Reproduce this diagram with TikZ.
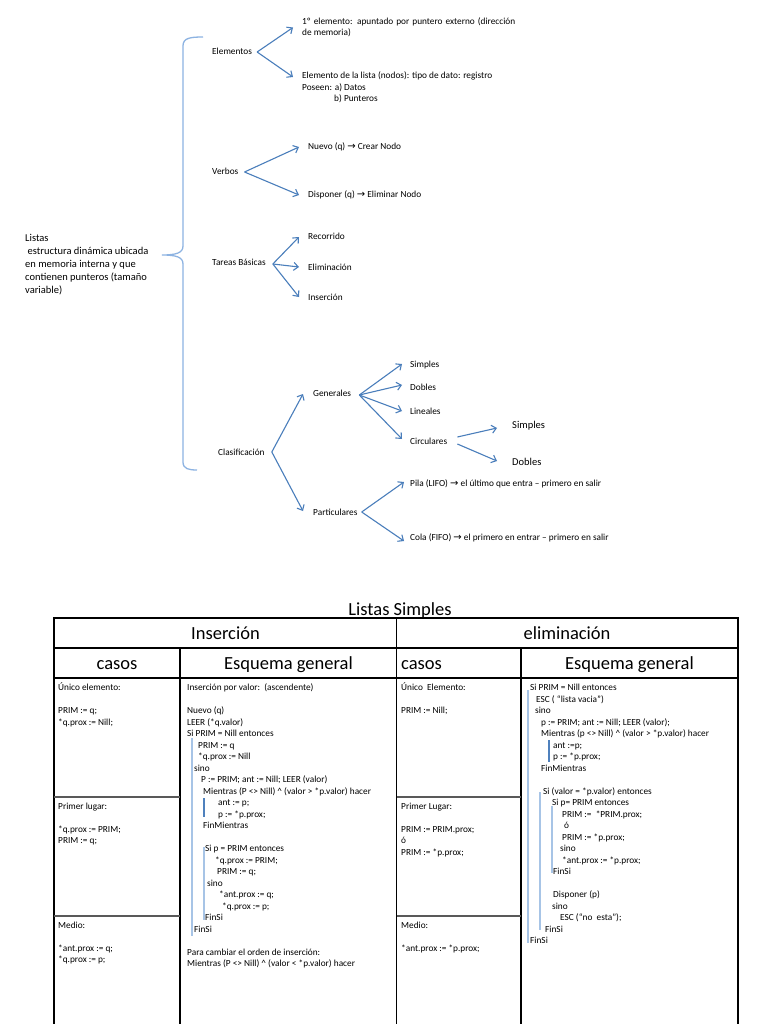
\documentclass[tikz,border=0pt]{standalone}
\usepackage{fontspec}
\setmainfont{Carlito}
\newfontfamily\symfont{DejaVu Sans}
\usetikzlibrary{arrows.meta}
\definecolor{arrblue}{HTML}{4A7EBB}
\definecolor{braceblue}{HTML}{8DB3E2}
\definecolor{barlight}{HTML}{A7C4E6}
\definecolor{bardark}{HTML}{4F81BD}
\newcommand{\ra}{{\symfont\fontsize{10}{10}\selectfont →}}
\begin{document}
\begin{tikzpicture}[x=1pt,y=-1pt,
  mmtext/.style={anchor=west,inner sep=0pt,font=\fontsize{9.3}{11.5}\selectfont,text height=6pt,text depth=0pt},
  mmbig/.style={anchor=west,inner sep=0pt,font=\fontsize{10.5}{12.8}\selectfont,text height=6.5pt,text depth=0pt},
  mmblock/.style={anchor=north west,inner sep=0pt,align=left,font=\fontsize{9.3}{11.5}\selectfont},
  arr/.style={draw=arrblue,line width=1.1pt,-{Straight Barb[length=4.5pt,width=8pt]}},
  brace/.style={draw=braceblue,line width=1.3pt},
  hdr/.style={inner sep=0pt,font=\fontsize{18.5}{22}\selectfont,text height=12pt,text depth=0pt},
  code/.style={anchor=base west,inner sep=0pt,font=\fontsize{9.3}{11.5}\selectfont},
  tline/.style={draw=black,line width=1.1pt},
  tgray/.style={draw=black!65,line width=1.1pt},
  barl/.style={draw=barlight,line width=1.4pt},
  bard/.style={draw=bardark,line width=1.2pt}
]
\useasboundingbox (0,0) rectangle (768,1024);
\fill[white] (0,0) rectangle (768,1024);

% ---------- mind map ----------
\node[anchor=north west,align=left,inner sep=0pt,font=\fontsize{10.5}{12.9}\selectfont] (listas) at (25,234)
  {Listas\\\hspace*{2.5pt}estructura dinámica ubicada\\en memoria interna y que\\contienen punteros (tamaño\\variable)};

\draw[brace] (203,37) .. controls (190,37) and (183,38) .. (183,46) -- (183,246)
  .. controls (183,253) and (176,255) .. (162,255)
  .. controls (176,255) and (183,257) .. (183,264) -- (183,462)
  .. controls (183,469) and (189,470) .. (197,470);

\node[mmtext] (elem) at (212,52) {Elementos};
\node[mmblock] (e1) at (302,17.5) {\makebox[213pt][s]{1º elemento: apuntado por puntero externo (dirección}\\de memoria)};
\node[mmblock] (e2) at (302,71.5) {Elemento de la lista (nodos): tipo de dato: registro\\Poseen: a) Datos\\\hspace*{32pt}b) Punteros};
\node[mmtext] (verbos) at (212,172) {Verbos};
\node[mmtext] (v1) at (308,147) {Nuevo (q) \ra{} Crear Nodo};
\node[mmtext] (v2) at (308,195) {Disponer (q) \ra{} Eliminar Nodo};
\node[mmtext] (tareas) at (212,262) {Tareas Básicas};
\node[mmtext] (t1) at (308,237) {Recorrido};
\node[mmtext] (t2) at (308,267) {Eliminación};
\node[mmtext] (t3) at (308,297) {Inserción};
\node[mmtext] (clas) at (218,452) {Clasificación};
\node[mmtext] (gen) at (313,393) {Generales};
\node[mmtext] (g1) at (410,364) {Simples};
\node[mmtext] (g2) at (410,387) {Dobles};
\node[mmtext] (g3) at (410,411) {Lineales};
\node[mmtext] (g4) at (410,441) {Circulares};
\node[mmbig] (c1) at (512,425) {Simples};
\node[mmbig] (c2) at (512,462) {Dobles};
\node[mmtext] (part) at (313,512) {Particulares};
\node[mmtext] (p1) at (410,483) {Pila (LIFO) \ra{} el último que entra – primero en salir};
\node[mmtext] (p2) at (410,537) {Cola (FIFO) \ra{} el primero en entrar – primero en salir};

\draw[arr] ([xshift=5pt]elem.east) -- ([xshift=-9pt]e1.west);
\draw[arr] ([xshift=5pt]elem.east) -- ([xshift=-9pt,yshift=10.25pt]e2.west);
\draw[arr] ([xshift=6pt]verbos.east) -- ([xshift=-9pt]v1.west);
\draw[arr] ([xshift=6pt]verbos.east) -- ([xshift=-9pt]v2.west);
\draw[arr] ([xshift=7pt,yshift=-2pt]tareas.east) -- ([xshift=-9pt]t1.west);
\draw[arr] ([xshift=7pt,yshift=-2pt]tareas.east) -- ([xshift=-9pt]t2.west);
\draw[arr] ([xshift=7pt,yshift=-2pt]tareas.east) -- ([xshift=-9pt]t3.west);
\draw[arr] ([xshift=7pt]clas.east) -- ([xshift=-10pt,yshift=-1pt]gen.west);
\draw[arr] ([xshift=7pt]clas.east) -- ([xshift=-10pt,yshift=1pt]part.west);
\draw[arr] ([xshift=8pt,yshift=-2pt]gen.east) -- ([xshift=-8pt]g1.west);
\draw[arr] ([xshift=8pt,yshift=-2pt]gen.east) -- ([xshift=-8pt,yshift=2pt]g2.west);
\draw[arr] ([xshift=8pt,yshift=-2pt]gen.east) -- ([xshift=-8pt]g3.west);
\draw[arr] ([xshift=8pt,yshift=-2pt]gen.east) -- ([xshift=-8pt,yshift=2pt]g4.west);
\draw[arr] ([xshift=10pt,yshift=4pt]g4.east) -- ([xshift=-15pt,yshift=-3pt]c1.west);
\draw[arr] ([xshift=10pt,yshift=-3pt]g4.east) -- ([xshift=-15pt,yshift=1pt]c2.west);
\draw[arr] ([xshift=4pt]part.east) -- ([xshift=-6pt,yshift=1pt]p1.west);
\draw[arr] ([xshift=4pt]part.east) -- ([xshift=-6pt,yshift=-4pt]p2.west);

% ---------- table ----------
\node[hdr] (title) at (400,609) {Listas Simples};
\draw[tline] (54,1024) -- (54,618) -- (738,618) -- (738,1024);
\draw[tline] (54,648) -- (738,648);
\draw[tline] (54,678) -- (738,678);
\draw[tline] (396.5,618) -- (396.5,1024);
\draw[tline] (180,648) -- (180,1024);
\draw[tline] (521,648) -- (521,1024);
\draw[tgray] (54,797) -- (180,797);
\draw[tgray] (54,916) -- (180,916);
\draw[tgray] (396.5,797) -- (521,797);
\draw[tgray] (396.5,916) -- (521,916);

\node[hdr] (hins) at (225.5,633) {Inserción};
\node[hdr] (helim) at (567,633) {eliminación};
\node[hdr] (hcas1) at (117,663) {casos};
\node[hdr] (hesq1) at (288.5,663) {Esquema general};
\node[hdr,anchor=west] (hcas2) at (401,663) {casos};
\node[hdr] (hesq2) at (629.5,663) {Esquema general};

% cases (insercion)
\foreach \yy/\tx [count=\k] in {690.5/Único elemento:, 713.5/PRIM := q;, 725/*q.prox := Nill;,
  809/Primer lugar:, 832/*q.prox := PRIM;, 843.5/PRIM := q;,
  928/Medio:, 951/*ant.prox := q;, 962.5/*q.prox := p;}
  \node[code] (ci\k) at (58,\yy) {\tx};

% cases (eliminacion)
\foreach \yy/\tx [count=\k] in {690.5/Único~~Elemento:, 713.5/PRIM := Nill;,
  809/Primer Lugar:, 832/PRIM := PRIM.prox;, 843.5/ó, 855/PRIM := *p.prox;,
  928/Medio:, 951/*ant.prox := *p.prox;}
  \node[code] (ce\k) at (401,\yy) {\tx};

% esquema general (insercion)
\foreach \li/\di/\tx in {0/0/Inserción por valor:~~(ascendente),
  2/0/Nuevo (q), 3/0/LEER (*q.valor), 4/0/Si PRIM = Nill entonces,
  5/11/PRIM := q, 6/11/*q.prox := Nill, 7/7/sino,
  8/14/P := PRIM; ant := Nill; LEER (valor),
  9/16/Mientras (P <> Nill) \textasciicircum{} (valor > *p.valor) hacer,
  10/31/ant := p;, 11/31/p := *p.prox;, 12/16/FinMientras,
  14/18/Si p = PRIM entonces, 15/28/*q.prox := PRIM;, 16/30/PRIM := q;,
  17/20/sino, 18/32/*ant.prox := q;, 19/35/*q.prox := p;,
  20/18/FinSi, 21/7/FinSi,
  23/0/Para cambiar el orden de inserción:,
  24/0/Mientras (P <> Nill) \textasciicircum{} (valor < *p.valor) hacer}
  \node[code] (ei\li) at (187+\di,690.5+11.5*\li) {\tx};

% esquema general (eliminacion)
\foreach \li/\di/\tx in {0/0/Si PRIM = Nill entonces,
  1/6/ESC ( “lista vacia”), 2/5/sino,
  3/11/p := PRIM; ant := Nill; LEER (valor);,
  4/11/Mientras (p <> Nill) \textasciicircum{} (valor > *p.valor) hacer,
  5/23/ant :=p;, 6/23/p := *p.prox;, 7/11/FinMientras,
  9/13/Si (valor = *p.valor) entonces, 10/22/Si p= PRIM entonces,
  11/32/PRIM :=~~*PRIM.prox;, 12/34/ó, 13/32/PRIM := *p.prox;,
  14/30/sino, 15/32/*ant.prox := *p.prox;, 16/23/FinSi,
  18/23/Disponer (p), 19/22/sino, 20/30/ESC (“no~~esta”);,
  21/15/FinSi, 22/0/FinSi}
  \node[code] (ee\li) at (530+\di,690.5+11.5*\li) {\tx};

% indentation bars
\draw[barl] (192,738) -- (192,936);
\draw[bard] (204,798) -- (204,817);
\draw[barl] (204,847) -- (204,920);
\draw[barl] (528,690) -- (528,943);
\draw[barl] (540,792) -- (540,930);
\draw[bard] (549,740) -- (549,762);
\draw[barl] (552,806) -- (552,873);
\end{tikzpicture}
\end{document}
